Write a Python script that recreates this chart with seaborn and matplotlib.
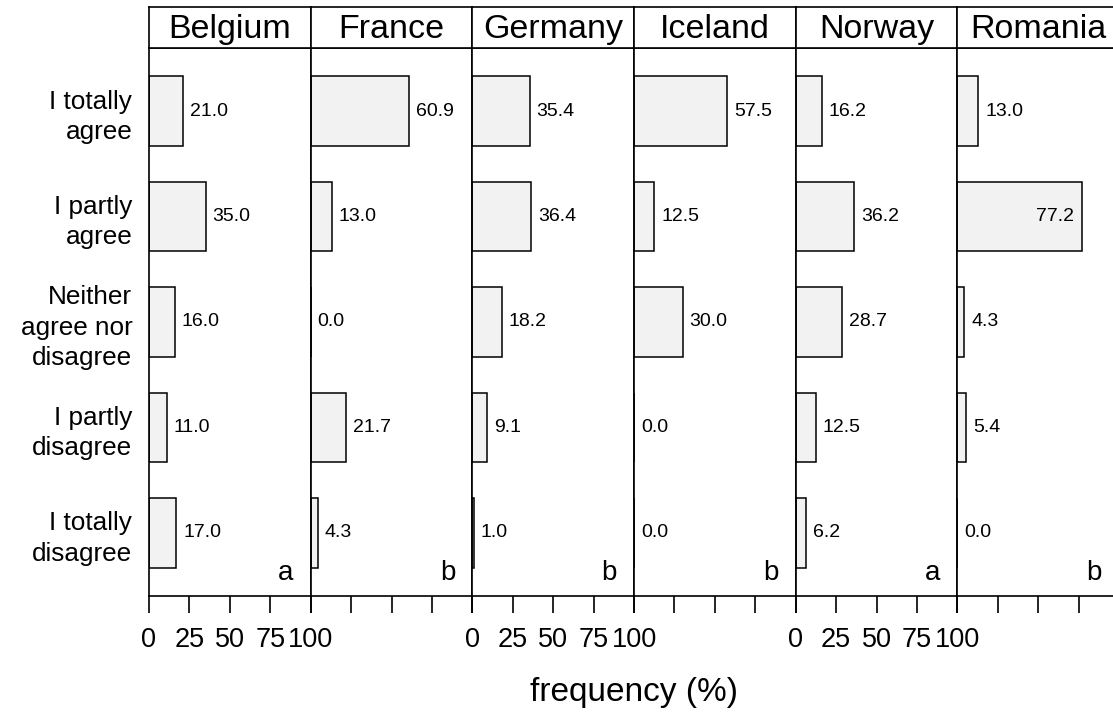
import numpy as np
import pandas as pd

import matplotlib
matplotlib.use("Agg")
import matplotlib.pyplot as plt

import seaborn as sns
sns.set_theme(style="white")
plt.rcParams['font.family'] = ['Liberation Sans', 'DejaVu Sans']
plt.rcParams['text.color'] = 'black'
plt.rcParams['xtick.color'] = 'black'
plt.rcParams['ytick.color'] = 'black'

# data (percent of answers per country)
responses = ["I totally\nagree", "I partly\nagree", "Neither\nagree nor\ndisagree",
             "I partly\ndisagree", "I totally\ndisagree"]
countries = ["Belgium", "France", "Germany", "Iceland", "Norway", "Romania"]
belgium = [21.0, 35.0, 16.0, 11.0, 17.0]
france = [60.9, 13.0, 0.0, 21.7, 4.3]
germany = [35.4, 36.4, 18.2, 9.1, 1.0]
iceland = [57.5, 12.5, 30.0, 0.0, 0.0]
norway = [16.2, 36.2, 28.7, 12.5, 6.2]
romania = [13.0, 77.2, 4.3, 5.4, 0.0]
groups = ["a", "b", "b", "b", "a", "b"]
x_ticks = [0, 25, 50, 75, 100]

values = [belgium, france, germany, iceland, norway, romania]
df = pd.DataFrame({
    "country": np.repeat(countries, len(responses)),
    "response": responses * len(countries),
    "pct": np.concatenate(values),
})

W, H = 1113, 715
fig = plt.figure(figsize=(W / 100, H / 100), dpi=100)

left, panel_w = 149, 161.67
panel_top, panel_bot = 48, 596
strip_top = 7
lw = 1.2

for i, country in enumerate(countries):
    x0 = left + i * panel_w
    ax = fig.add_axes([x0 / W, (H - panel_bot) / H,
                       panel_w / W, (panel_bot - panel_top) / H])
    sub = df[df["country"] == country]
    sns.barplot(data=sub, x="pct", y="response", order=responses,
                orient="h", color="#f2f2f2", saturation=1,
                edgecolor="black", linewidth=1.1, width=0.66,
                errorbar=None, ax=ax)
    ax.set_xlim(0, 100)
    ax.set_ylim(len(responses) - 0.4, -0.6)
    ax.set_xlabel("")
    ax.set_ylabel("")
    ax.set_xticks(x_ticks)
    ax.tick_params(axis="x", bottom=True, direction="out", length=12,
                   width=lw, pad=10, labelsize=19.5, colors="black",
                   labelbottom=(i % 2 == 0))
    ax.tick_params(axis="y", left=False, length=0, pad=12,
                   labelsize=18.8, labelcolor="black", labelleft=(i == 0))
    for lab in ax.get_yticklabels():
        lab.set_linespacing(1.33)
    for s in ax.spines.values():
        s.set_visible(True)
        s.set_color("black")
        s.set_linewidth(lw)

    for j, v in enumerate(values[i]):
        if v > 70:
            ax.annotate("%.1f" % v, (v, j), xytext=(-6, 0),
                        textcoords="offset points", ha="right",
                        va="center", fontsize=14)
        else:
            ax.annotate("%.1f" % v, (v, j), xytext=(5, 0),
                        textcoords="offset points", ha="left",
                        va="center", fontsize=14)

    ax.text(0.895, 0.03, groups[i], transform=ax.transAxes,
            ha="right", va="baseline", fontsize=20)

    # strip on top of the panel
    sx = fig.add_axes([x0 / W, (H - panel_top) / H,
                       panel_w / W, (panel_top - strip_top) / H])
    sx.set_xticks([])
    sx.set_yticks([])
    for s in sx.spines.values():
        s.set_color("black")
        s.set_linewidth(lw)
    sx.text(0.5, 0.45, country, transform=sx.transAxes,
            ha="center", va="center", fontsize=24.5)

fig.text(634 / W, 1 - 693 / H, "frequency (%)", ha="center",
         va="center", fontsize=24)

fig.savefig("out.png", dpi=100)
